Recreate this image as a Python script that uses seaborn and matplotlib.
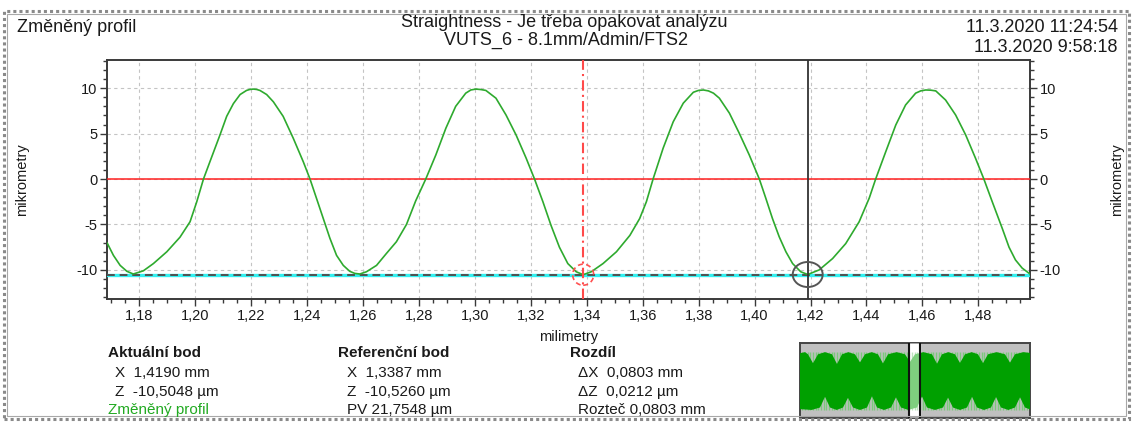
import numpy as np
import matplotlib
matplotlib.use("Agg")
import matplotlib.pyplot as plt
import matplotlib.ticker as mticker
from matplotlib.patches import Ellipse, Rectangle
import seaborn as sns
import pandas as pd

# ---- measured profile (position in mm, deviation in micrometres) ----
profile_x = [
    1.1684, 1.1707, 1.1731, 1.1755, 1.1778, 1.1814, 1.1850, 1.1898, 1.1945, 1.1981,
    1.2005, 1.2029, 1.2052, 1.2088, 1.2112, 1.2136, 1.2160, 1.2183, 1.2195, 1.2207,
    1.2219, 1.2231, 1.2255, 1.2279, 1.2314, 1.2350, 1.2386, 1.2410, 1.2433, 1.2457,
    1.2481, 1.2505, 1.2529, 1.2552, 1.2570, 1.2588, 1.2612, 1.2648, 1.2683, 1.2719,
    1.2755, 1.2788, 1.2824, 1.2860, 1.2896, 1.2931, 1.2967, 1.2985, 1.3003, 1.3021,
    1.3039, 1.3075, 1.3111, 1.3147, 1.3183, 1.3213, 1.3243, 1.3272, 1.3302, 1.3332,
    1.3362, 1.3387, 1.3416, 1.3458, 1.3506, 1.3554, 1.3589, 1.3613, 1.3637, 1.3673,
    1.3709, 1.3745, 1.3781, 1.3799, 1.3817, 1.3835, 1.3853, 1.3874, 1.3910, 1.3945,
    1.3981, 1.4017, 1.4040, 1.4064, 1.4088, 1.4112, 1.4136, 1.4165, 1.4190, 1.4231,
    1.4279, 1.4326, 1.4374, 1.4410, 1.4433, 1.4469, 1.4505, 1.4540, 1.4576, 1.4594,
    1.4612, 1.4630, 1.4648, 1.4683, 1.4719, 1.4755, 1.4790, 1.4820, 1.4850, 1.4886,
    1.4910, 1.4933, 1.4957, 1.4985,
]
profile_z = [
    -7.00, -8.40, -9.50, -10.15, -10.45, -10.10, -9.30, -8.00, -6.40, -4.70,
    -2.50, 0.00, 1.90, 4.85, 6.90, 8.30, 9.30, 9.75, 9.86, 9.90,
    9.86, 9.75, 9.30, 8.50, 6.90, 4.50, 1.90, 0.00, -2.10, -4.30,
    -6.50, -8.40, -9.50, -10.15, -10.38, -10.45, -10.20, -9.50, -8.20, -6.90,
    -5.00, -2.40, 0.00, 2.65, 5.60, 8.00, 9.45, 9.80, 9.90, 9.85,
    9.75, 8.90, 7.05, 4.85, 2.30, 0.00, -2.50, -5.10, -7.50, -9.30,
    -10.20, -10.526, -10.20, -9.30, -8.00, -6.20, -4.35, -2.50, 0.00, 3.40,
    6.30, 8.35, 9.55, 9.75, 9.80, 9.70, 9.45, 8.90, 7.25, 5.05,
    2.65, 0.00, -2.10, -4.35, -6.35, -8.00, -9.30, -10.20, -10.5048, -10.00,
    -8.75, -7.10, -4.70, -2.10, 0.00, 3.00, 5.95, 8.15, 9.45, 9.70,
    9.80, 9.78, 9.70, 8.70, 7.05, 4.85, 2.30, 0.00, -2.50, -5.45,
    -7.50, -8.90, -9.80, -10.45,
]

# cursor positions and evaluation lines
current_point = (1.4190, -10.5048)     # Aktuální bod
reference_point = (1.3387, -10.5260)   # Referenční bod
pv_value = 21.7548
min_level = -10.5260
zero_level = 0.0

view_x = (1.1684, 1.4985)
view_z = (-13.2, 13.1)
x_major = [1.18, 1.20, 1.22, 1.24, 1.26, 1.28, 1.30, 1.32, 1.34, 1.36, 1.38,
           1.40, 1.42, 1.44, 1.46, 1.48]
z_major = [-10, -5, 0, 5, 10]

# overview of the full profile: extent in mm, dark-band envelope in micrometres
overview_range = (-2.10, 4.80)
overview_peak, overview_valley = 11.0, -10.5
overview_top_x = [-2.10, -1.95, -1.86, -1.71, -1.56, -1.35, -1.14, -0.99, -0.84, -0.65,
                  -0.45, -0.30, -0.15, 0.05, 0.24, 0.39, 0.54, 0.80, 1.05, 1.20,
                  1.35, 1.60, 1.86, 2.01, 2.16, 2.35, 2.55, 2.70, 2.85, 3.05,
                  3.24, 3.39, 3.54, 3.80, 4.05, 4.20, 4.35, 4.60, 4.80]
overview_top = [10.6, 11.0, 10.2, 6.9, 10.2, 11.0, 10.2, 6.6, 10.2, 11.0,
                10.2, 7.2, 10.2, 11.0, 10.2, 6.8, 10.2, 11.0, 10.2, 7.4,
                10.2, 11.0, 10.2, 6.7, 10.2, 11.0, 10.2, 7.0, 10.2, 11.0,
                10.2, 6.9, 10.2, 11.0, 10.2, 7.1, 10.2, 11.0, 10.7]
overview_bottom_x = [-2.10, -1.75, -1.50, -1.35, -1.20, -1.00, -0.81, -0.66, -0.51, -0.30,
                     -0.09, 0.06, 0.21, 0.42, 0.63, 0.78, 0.93, 1.15, 1.41, 1.56,
                     1.71, 1.95, 2.19, 2.34, 2.49, 2.70, 2.91, 3.06, 3.21, 3.42,
                     3.63, 3.78, 3.93, 4.15, 4.35, 4.50, 4.65, 4.80]
overview_bottom = [-10.2, -10.5, -9.6, -5.6, -9.6, -10.5, -9.6, -6.0, -9.6, -10.5,
                   -9.6, -5.4, -9.6, -10.5, -9.6, -5.8, -9.6, -10.5, -9.6, -5.5,
                   -9.6, -10.5, -9.6, -5.9, -9.6, -10.5, -9.6, -5.6, -9.6, -10.5,
                   -9.6, -5.7, -9.6, -10.5, -9.6, -5.8, -9.6, -10.3]

W, H = 1133, 423
sns.set_theme(style="white")
plt.rcParams["font.family"] = ["Liberation Sans", "DejaVu Sans"]
plt.rcParams["axes.unicode_minus"] = False
INK = "#1a1a1a"

fig = plt.figure(figsize=(W / 100, H / 100), dpi=100)


def px_box(x0, y0, x1, y1):
    return [x0 / W, 1 - y1 / H, (x1 - x0) / W, (y1 - y0) / H]


def ftext(x, y, s, **kw):
    kw.setdefault("color", INK)
    fig.text(x / W, 1 - y / H, s, **kw)


def num(v, digits=4):
    return f"{v:.{digits}f}".replace(".", ",")


# outer frame
fig.patches.append(Rectangle((4 / W, 1 - 419 / H), 1125 / W, 408 / H,
                             transform=fig.transFigure, fill=False,
                             edgecolor="#8a8a8a", lw=2.2, linestyle=(0, (1, 1))))
fig.patches.append(Rectangle((7 / W, 1 - 416 / H), 1119 / W, 402 / H,
                             transform=fig.transFigure, fill=False,
                             edgecolor="#a8a8a8", lw=0.8))

# ---- main profile plot ----
ax = fig.add_axes(px_box(107, 60, 1030, 299))
ax.set_facecolor("white")

df = pd.DataFrame({"x": profile_x, "z": profile_z})
sns.lineplot(data=df, x="x", y="z", ax=ax, color="#2eaa2e", lw=1.2,
             sort=False, estimator=None, zorder=4)

ax.axhline(zero_level, color="#ff2020", lw=1.1, zorder=3)
ax.axhline(min_level, color="#33f0f0", lw=2.4, zorder=3)
ax.axhline(min_level, color="#505050", lw=1.4, linestyle=(0, (4, 2.5)), zorder=3.5)
ax.axvline(reference_point[0], color="#ff4a4a", lw=1.5,
           linestyle=(0, (5, 2, 1, 2)), zorder=5)
ax.axvline(current_point[0], color="#333333", lw=1.3, zorder=5)

ax.add_patch(Ellipse(reference_point, 21 / 2800, 21 / 9.08, fill=False,
                     edgecolor="#ff5050", lw=1.2, linestyle=(0, (3, 2)), zorder=6))
ax.add_patch(Ellipse(current_point, 30 / 2800, 25 / 9.08, fill=False,
                     edgecolor="#555555", lw=1.4, zorder=6))

ax.set_xlim(*view_x)
ax.set_ylim(*view_z)
ax.xaxis.set_major_locator(mticker.FixedLocator(x_major))
ax.xaxis.set_minor_locator(mticker.MultipleLocator(0.005))
ax.yaxis.set_major_locator(mticker.FixedLocator(z_major))
ax.yaxis.set_minor_locator(mticker.MultipleLocator(1))
ax.xaxis.set_major_formatter(mticker.FuncFormatter(lambda v, p: num(v, 2)))
ax.yaxis.set_major_formatter(mticker.FuncFormatter(lambda v, p: f"{v:.0f}"))
ax.grid(True, which="major", color="#c4c4c4", lw=0.8, linestyle=(0, (3, 3)), zorder=0)
ax.set_xlabel("")
ax.set_ylabel("")
for s in ax.spines.values():
    s.set_color("#3a3a3a")
    s.set_linewidth(1.4)
ax.tick_params(which="both", direction="out", color="#3a3a3a", width=1.0,
               left=True, right=True, bottom=True, top=False,
               labelleft=True, labelright=True, labelsize=10.5, labelcolor=INK)
ax.tick_params(which="major", length=5, pad=2)
ax.tick_params(which="minor", length=3)

ftext(22, 180, "mikrometry", rotation=90, ha="center", va="center", fontsize=10.5)
ftext(1117, 180, "mikrometry", rotation=90, ha="center", va="center", fontsize=10.5)
ftext(569, 337, "milimetry", ha="center", va="center", fontsize=10.5)

# ---- header ----
ftext(17, 31.7, "Změněný profil", ha="left", va="baseline", fontsize=13)
ftext(564, 26.7, "Straightness - Je třeba opakovat analýzu", ha="center", va="baseline", fontsize=13)
ftext(566, 45, "VUTS_6 - 8.1mm/Admin/FTS2", ha="center", va="baseline", fontsize=13)
ftext(1118, 31.7, "11.3.2020 11:24:54", ha="right", va="baseline", fontsize=13)
ftext(1118, 51.7, "11.3.2020 9:58:18", ha="right", va="baseline", fontsize=13)

# ---- readouts ----
fs = 11
dx = current_point[0] - reference_point[0]
dz = current_point[1] - reference_point[1]
ftext(108, 353, "Aktuální bod", ha="left", va="center", fontsize=fs, fontweight="bold")
ftext(115, 373, f"X  {num(current_point[0])} mm", ha="left", va="center", fontsize=fs)
ftext(115, 392, f"Z  {num(current_point[1])} µm", ha="left", va="center", fontsize=fs)
ftext(108, 410, "Změněný profil", ha="left", va="center", fontsize=fs, color="#22aa22")

ftext(338, 353, "Referenční bod", ha="left", va="center", fontsize=fs, fontweight="bold")
ftext(347, 373, f"X  {num(reference_point[0])} mm", ha="left", va="center", fontsize=fs)
ftext(347, 392, f"Z  {num(reference_point[1])} µm", ha="left", va="center", fontsize=fs)
ftext(347, 410, f"PV {num(pv_value)} µm", ha="left", va="center", fontsize=fs)

ftext(570, 353, "Rozdíl", ha="left", va="center", fontsize=fs, fontweight="bold")
ftext(578, 373, f"ΔX  {num(dx)} mm", ha="left", va="center", fontsize=fs)
ftext(578, 392, f"ΔZ  {num(dz)} µm", ha="left", va="center", fontsize=fs)
ftext(578, 410, f"Rozteč {num(dx)} mm", ha="left", va="center", fontsize=fs)

# ---- overview strip ----
axm = fig.add_axes(px_box(800, 343, 1030, 418))
axm.set_facecolor("#c0c0c0")
axm.set_xlim(*overview_range)
axm.set_ylim(-13.5, 14.4)
axm.axvspan(*view_x, color="white", zorder=1)
# one light stroke per profile period (pitch = Rozteč), forming the striped band
n_before = int((reference_point[0] - overview_range[0]) / dx)
strokes = reference_point[0] + dx * np.arange(-n_before, int((overview_range[1] - reference_point[0]) / dx) + 1)
axm.vlines(strokes, overview_valley, overview_peak, color="#7cc87c", lw=1.0, zorder=2)
poly_x = overview_top_x + overview_bottom_x[::-1]
poly_y = overview_top + overview_bottom[::-1]
axm.fill(poly_x, poly_y, color="#00a000", lw=0, zorder=3)
axm.axvspan(*view_x, color="white", alpha=0.5, lw=0, zorder=4)
for xv in view_x:
    axm.axvline(xv, color="#111111", lw=1.5, zorder=5)
axm.set_xticks([])
axm.set_yticks([])
for s in axm.spines.values():
    s.set_color("#444444")
    s.set_linewidth(1.4)

fig.savefig("out.png", dpi=100)
